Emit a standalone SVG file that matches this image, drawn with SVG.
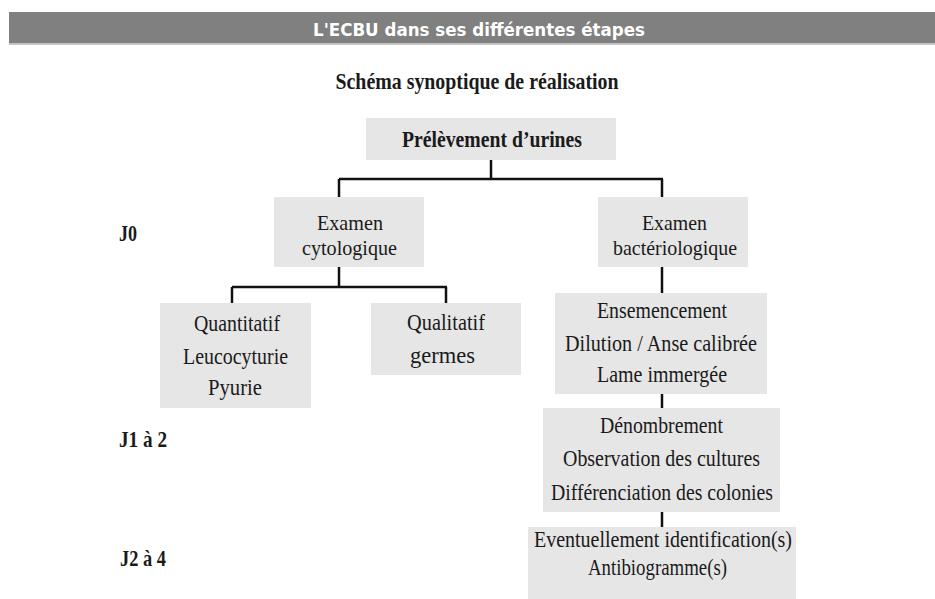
<svg xmlns="http://www.w3.org/2000/svg" width="935" height="599" viewBox="0 0 935 599">
<style>
.box{fill:#e6e6e6}
.t{font-family:"Liberation Serif","Times New Roman",serif;font-size:24px;fill:#1a1a1a;text-anchor:middle}
.s{font-size:22px}
.b{font-weight:bold}
.j{font-family:"Liberation Serif","Times New Roman",serif;font-size:24px;font-weight:bold;fill:#1a1a1a}
.conn{stroke:#111;stroke-width:2.5;fill:none}
</style>
<rect width="935" height="599" fill="#ffffff"/>
<g id="banner">
<rect x="9" y="12" width="926" height="31" fill="#808080"/>
<rect x="9" y="43" width="926" height="2" fill="#c4c4c4"/>
<text x="479" y="36" textLength="332" lengthAdjust="spacingAndGlyphs" style="font-family:'DejaVu Sans Condensed','DejaVu Sans',sans-serif;font-size:18px;font-weight:bold;fill:#ffffff;text-anchor:middle">L'ECBU dans ses différentes étapes</text>
</g>
<g id="title">
<text class="t b" x="477" y="89" textLength="283" lengthAdjust="spacingAndGlyphs">Schéma synoptique de réalisation</text>
</g>
<g id="days">
<text class="j" x="119" y="241" textLength="18" lengthAdjust="spacingAndGlyphs">J0</text>
<text class="j" x="119" y="447" textLength="48" lengthAdjust="spacingAndGlyphs">J1 à 2</text>
<text class="j" x="120" y="566" textLength="46" lengthAdjust="spacingAndGlyphs">J2 à 4</text>
</g>
<g id="connectors">
<path class="conn" d="M491 160 V179 M339 179 H663 M339 179 V197 M662 179 V197"/>
<path class="conn" d="M339 267 V287 M232 287 H447 M232 287 V303 M446 287 V303"/>
<path class="conn" d="M662 267 V293 M662 394 V408 M662 512 V527"/>
</g>
<g id="prelevement">
<rect class="box" x="366" y="118" width="250" height="42"/>
<text class="t b" x="492" y="147" textLength="180" lengthAdjust="spacingAndGlyphs">Prélèvement d’urines</text>
</g>
<g id="cytologique">
<rect class="box" x="274" y="197" width="150" height="70"/>
<text class="t s" x="350" y="230" textLength="66" lengthAdjust="spacingAndGlyphs">Examen</text>
<text class="t s" x="349.5" y="254.5" textLength="95" lengthAdjust="spacingAndGlyphs">cytologique</text>
</g>
<g id="bacteriologique">
<rect class="box" x="598" y="197" width="150" height="70"/>
<text class="t s" x="674.5" y="230" textLength="65" lengthAdjust="spacingAndGlyphs">Examen</text>
<text class="t s" x="675" y="254.5" textLength="124" lengthAdjust="spacingAndGlyphs">bactériologique</text>
</g>
<g id="quantitatif">
<rect class="box" x="160" y="303" width="151" height="105"/>
<text class="t" x="237" y="331" textLength="86" lengthAdjust="spacingAndGlyphs">Quantitatif</text>
<text class="t" x="235.5" y="364" textLength="105" lengthAdjust="spacingAndGlyphs">Leucocyturie</text>
<text class="t" x="235" y="395" textLength="54" lengthAdjust="spacingAndGlyphs">Pyurie</text>
</g>
<g id="qualitatif">
<rect class="box" x="371" y="303" width="150" height="72"/>
<text class="t" x="446" y="330" textLength="78" lengthAdjust="spacingAndGlyphs">Qualitatif</text>
<text class="t" x="442.5" y="363" textLength="65" lengthAdjust="spacingAndGlyphs">germes</text>
</g>
<g id="ensemencement">
<rect class="box" x="555" y="293" width="212" height="101"/>
<text class="t" x="662" y="318" textLength="130" lengthAdjust="spacingAndGlyphs">Ensemencement</text>
<text class="t" x="661" y="351" textLength="192" lengthAdjust="spacingAndGlyphs">Dilution / Anse calibrée</text>
<text class="t" x="662" y="382" textLength="130" lengthAdjust="spacingAndGlyphs">Lame immergée</text>
</g>
<g id="denombrement">
<rect class="box" x="543" y="408" width="237" height="104"/>
<text class="t" x="661.5" y="433" textLength="123" lengthAdjust="spacingAndGlyphs">Dénombrement</text>
<text class="t" x="661.5" y="466" textLength="197" lengthAdjust="spacingAndGlyphs">Observation des cultures</text>
<text class="t" x="662" y="500" textLength="222" lengthAdjust="spacingAndGlyphs">Différenciation des colonies</text>
</g>
<g id="identification">
<rect class="box" x="528" y="527" width="268" height="72"/>
<text class="t" x="663" y="547" textLength="258" lengthAdjust="spacingAndGlyphs">Eventuellement identification(s)</text>
<text class="t" x="657.5" y="575" textLength="139" lengthAdjust="spacingAndGlyphs">Antibiogramme(s)</text>
</g>
</svg>
